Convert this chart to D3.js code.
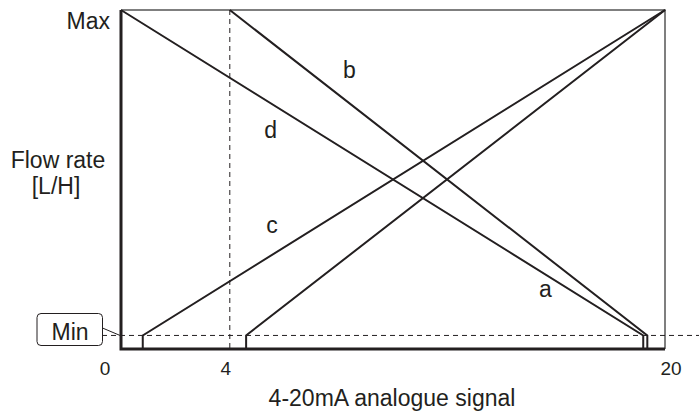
<!DOCTYPE html>
<meta charset="utf-8">
<script src="https://d3js.org/d3.v7.min.js"></script>
<style>
  body { margin: 0; background: #fff; }
  text { font-family: "Liberation Sans", Arial, sans-serif; fill: #231f20; }
</style>
<svg id="chart" width="699" height="414"></svg>
<script>
// data
var seriesNames = ["a", "b", "c", "d"];
var signalFrom = [4.6, 4, 0.8, 0];      // mA where each line starts
var signalTo   = [20, 19.35, 20, 19.2]; // mA where each line ends
var flowFrom   = ["Min", "Max", "Min", "Max"];
var flowTo     = ["Max", "Min", "Max", "Min"];
var flowLevels = { floor: 0, Min: 0.04, Max: 1 };
var xTicks = [0, 4, 20];
var labelSignal = [15.6, 8.4, 5.55, 5.5];
var labelFlow   = [0.152, 0.8, 0.343, 0.623];

var svg = d3.select("#chart");
var ink = "#231f20";

var x = d3.scaleLinear().domain([0, 20]).range([121, 665]);
var y = d3.scaleLinear().domain([0, 1]).range([349, 10]);

// frame: thin top / right
svg.append("path")
  .attr("d", "M" + x(0) + "," + y(1) + "H" + x(20) + "V" + y(0))
  .attr("fill", "none").attr("stroke", "#555").attr("stroke-width", 1.5);

// dashed guides
svg.append("line")
  .attr("x1", x(4)).attr("x2", x(4)).attr("y1", y(1)).attr("y2", y(0))
  .attr("stroke", ink).attr("stroke-width", 1).attr("stroke-dasharray", "5,4");
svg.append("line")
  .attr("x1", 102).attr("x2", 699).attr("y1", y(flowLevels.Min)).attr("y2", y(flowLevels.Min))
  .attr("stroke", ink).attr("stroke-width", 1).attr("stroke-dasharray", "5,4");

// series lines, with the drop to the floor at the Min end
var line = d3.line().x(function(p) { return x(p[0]); }).y(function(p) { return y(p[1]); });
seriesNames.forEach(function(name, i) {
  var pts = [];
  if (flowFrom[i] == "Min") pts.push([signalFrom[i], flowLevels.floor]);
  pts.push([signalFrom[i], flowLevels[flowFrom[i]]]);
  pts.push([signalTo[i], flowLevels[flowTo[i]]]);
  if (flowTo[i] == "Min") pts.push([signalTo[i], flowLevels.floor]);
  svg.append("path")
    .attr("d", line(pts))
    .attr("fill", "none").attr("stroke", ink).attr("stroke-width", 2);

  svg.append("text")
    .attr("x", x(labelSignal[i])).attr("y", y(labelFlow[i]))
    .attr("text-anchor", "middle")
    .style("font-size", "23px")
    .text(name);
});

// thick axes
svg.append("path")
  .attr("d", "M" + x(0) + "," + y(1) + "V" + y(0) + "H" + x(20))
  .attr("fill", "none").attr("stroke", ink).attr("stroke-width", 3);

// x tick labels
var tickShift = [-16, -4, 6];
svg.selectAll(".tick")
  .data(xTicks)
  .enter()
  .append("text")
    .attr("class", "tick")
    .attr("x", function(d, i) { return x(d) + tickShift[i]; })
    .attr("y", 375)
    .attr("text-anchor", "middle")
    .style("font-size", "19px")
    .text(function(d) { return d; });

svg.append("text")
  .attr("x", 392).attr("y", 406)
  .attr("text-anchor", "middle")
  .style("font-size", "23px")
  .text("4-20mA analogue signal");

// y labels
svg.append("text")
  .attr("x", 110).attr("y", y(1) + 19)
  .attr("text-anchor", "end")
  .style("font-size", "23px")
  .text("Max");

svg.append("text")
  .attr("x", 58).attr("y", 168)
  .attr("text-anchor", "middle")
  .style("font-size", "23px")
  .text("Flow rate");
svg.append("text")
  .attr("x", 56).attr("y", 194)
  .attr("text-anchor", "middle")
  .style("font-size", "23px")
  .text("[L/H]");

// Min callout
svg.append("rect")
  .attr("x", 37).attr("y", 313.5).attr("width", 65.5).attr("height", 32)
  .attr("rx", 4).attr("ry", 4)
  .attr("fill", "#fff").attr("stroke", ink).attr("stroke-width", 1);
svg.append("line")
  .attr("x1", 102.5).attr("y1", 328).attr("x2", x(0) - 1).attr("y2", y(flowLevels.Min))
  .attr("stroke", ink).attr("stroke-width", 1);
svg.append("text")
  .attr("x", 70).attr("y", 340)
  .attr("text-anchor", "middle")
  .style("font-size", "23px")
  .text("Min");
</script>
